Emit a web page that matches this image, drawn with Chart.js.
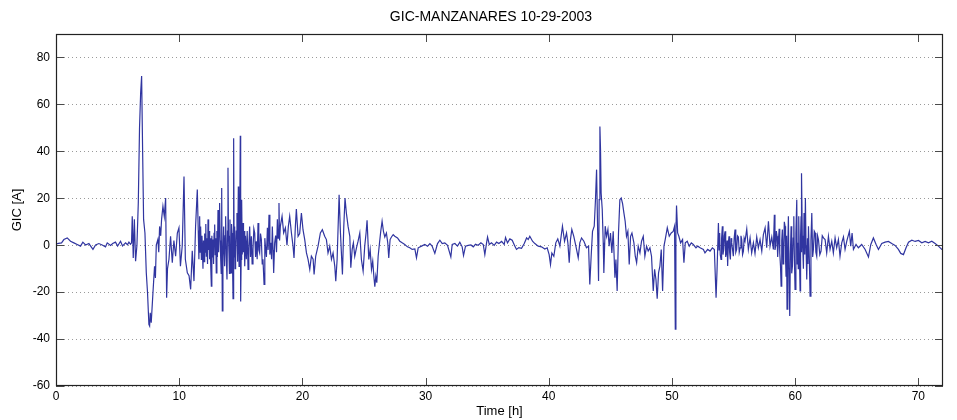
<!DOCTYPE html>
<html><head><meta charset="utf-8">
<script src="https://cdn.jsdelivr.net/npm/chart.js@4.4.1/dist/chart.umd.min.js"></script>
<style>html,body{margin:0;padding:0;background:#fff}</style>
</head><body>
<canvas id="c" width="957" height="420" style="width:957px;height:420px;display:block"></canvas>
<script>
const titleText = "GIC-MANZANARES 10-29-2003";
const xTitle = "Time [h]";
const yTitle = "GIC [A]";
const xTicks = [0,10,20,30,40,50,60,70];
const yTicks = [-60,-40,-20,0,20,40,60,80];

const timeH = [
0,0.2,0.45,0.64,0.91,1.18,1.45,1.72,1.99,2.18,2.4,2.67,3.0,3.21,3.48,3.75,4.02,4.16,4.43,4.6,4.83,5.0,5.24,5.4,5.65,5.8,5.92,6.05,6.13,
6.19,6.27,6.36,6.46,6.57,6.68,6.78,6.87,6.95,7.03,7.11,7.22,7.33,7.43,7.54,7.6,7.65,7.73,7.87,8.0,8.07,8.14,8.27,8.34,8.41,8.5,8.57,8.68,8.79,8.9,8.98,
9.05,9.17,9.3,9.44,9.57,9.71,9.85,9.98,10.1,10.25,10.39,10.5,10.66,10.8,10.93,11.06,11.2,11.33,11.47,11.6,
11.63,11.66,11.7,11.74,11.8,11.85,11.93,11.97,12.02,12.07,
12.12,12.16,12.2,12.25,12.3,12.34,12.39,12.43,12.47,12.52,
12.56,12.61,12.65,12.7,12.74,12.79,12.83,12.88,12.92,12.97,
13.01,13.06,13.1,13.15,13.2,13.24,13.28,13.33,13.37,13.41,
13.45,13.5,13.55,13.61,13.65,13.69,13.73,13.77,13.82,13.88,
13.92,13.96,14.0,14.04,14.08,14.12,14.16,14.21,14.25,14.29,
14.33,14.37,14.42,14.46,14.5,14.54,14.58,14.63,14.69,14.74,
14.8,14.83,14.86,14.91,14.96,14.99,15.03,15.07,15.12,15.18,
15.22,15.27,
15.32,15.38,15.45,15.52,15.59,15.65,15.72,15.79,15.86,15.92,
15.99,16.06,16.13,16.2,16.26,16.33,16.4,16.46,16.53,16.6,
16.67,16.74,16.8,16.89,16.95,17.0,17.08,17.16,17.22,17.29,
17.36,17.43,17.5,17.56,17.62,17.67,17.75,17.83,17.9,17.97,
18.03,18.1,18.15,
18.21,18.35,18.48,18.62,18.75,18.86,18.97,19.11,19.24,19.32,19.43,19.51,19.65,19.78,19.92,
20.05,20.19,20.33,20.46,20.6,20.73,20.87,20.95,21.08,21.27,21.46,21.62,21.81,21.95,22.08,22.22,22.36,22.49,22.63,22.71,22.82,22.98,23.09,23.25,23.36,23.46,23.57,23.71,
23.85,23.93,24.04,24.14,24.25,24.39,24.52,24.66,24.79,24.93,25.06,25.17,25.25,25.39,25.5,25.61,25.71,25.8,25.88,25.96,26.04,26.15,26.26,26.36,26.47,26.58,26.69,26.82,26.93,27.01,27.12,27.23,27.37,27.5,27.72,27.91,
28.1,28.31,28.53,28.72,28.91,29.13,29.26,29.4,29.67,29.94,30.16,30.35,30.53,30.75,30.97,31.16,31.35,31.56,31.78,32.05,32.16,32.38,32.59,32.78,32.97,33.08,33.24,33.46,33.68,33.87,
34.05,34.27,34.49,34.68,34.81,34.95,35.03,35.17,35.35,35.57,35.76,35.95,36.17,36.38,36.49,36.65,36.84,37.03,37.25,37.38,37.57,37.79,38.01,38.2,38.33,
38.46,38.68,38.87,39.14,39.41,39.68,39.87,40.03,40.14,40.25,40.41,40.57,40.73,40.9,41.11,41.28,41.44,41.55,41.66,41.76,41.87,42.03,42.2,42.39,42.52,42.66,42.85,43.06,43.23,43.33,43.44,43.55,43.69,43.79,43.88,43.96,
44.04,44.09,44.15,44.2,44.25,44.34,44.42,44.47,44.58,44.69,44.8,44.9,45.01,45.12,45.23,45.37,45.45,45.55,45.66,45.77,45.88,45.99,46.1,46.2,46.31,46.42,46.53,46.64,46.75,46.91,47.02,47.13,47.26,47.4,47.53,47.67,47.8,47.94,
48.07,48.21,48.34,48.42,48.48,48.59,48.7,48.8,48.91,49.02,49.13,49.24,49.35,49.45,49.62,49.78,49.94,50.1,50.21,50.27,50.32,50.37,50.46,50.56,50.7,50.86,50.97,51.08,51.24,51.4,51.57,51.73,51.95,
52.09,52.28,52.55,52.68,52.9,53.09,53.28,53.44,53.58,53.66,
53.77,53.82,53.87,53.92,53.98,54.03,54.09,54.14,54.2,54.25,
54.31,54.36,54.42,54.47,54.52,54.58,54.63,54.68,54.74,54.8,
54.85,54.92,54.98,55.05,55.12,55.18,55.25,55.32,55.39,55.46,
55.53,55.6,55.66,55.73,55.8,55.86,55.93,
56.07,56.2,56.34,56.47,56.61,56.74,56.88,57.01,57.15,57.29,57.42,57.56,57.69,57.83,57.96,58.1,58.23,
58.31,58.36,58.42,58.47,58.53,58.58,58.64,58.7,58.75,58.81,
58.86,58.91,58.96,59.02,59.07,59.12,59.18,59.22,59.26,59.3,
59.34,59.4,59.45,59.5,59.56,59.61,59.67,59.72,59.78,59.84,
59.89,59.94,59.99,60.06,60.13,60.17,60.21,60.25,60.29,60.35,
60.4,60.44,60.48,60.5,60.53,60.58,60.62,60.67,60.72,60.78,
60.83,60.88,60.94,61.0,61.04,61.08,61.15,61.21,61.28,61.35,
61.42,61.48,61.55,61.62,61.68,61.75,61.82,61.89,62.0,62.1,
62.2,62.3,
62.43,62.56,62.7,62.83,62.97,63.1,63.24,63.37,63.51,63.64,63.78,63.92,64.05,64.19,64.4,64.51,64.62,64.73,64.94,65.13,65.4,65.68,65.95,66.14,66.35,66.57,66.76,67.03,67.3,67.57,67.84,
68.11,68.38,68.57,68.79,69.0,69.2,69.47,69.74,70.01,70.28,70.55,70.82,71.09,71.36,71.63,71.9,72.0
];

const gicA = [
0.5,0.8,1.0,2.4,3.1,1.7,1.0,0.3,-0.4,1.3,0.1,0.7,-1.8,0.1,0.7,0.1,-0.7,1.0,-0.1,0.7,1.3,-0.4,1.7,-0.3,1.0,0.2,1.3,0.4,1.0,
12.3,-5.4,11,-6.8,0,18,50,64.7,72.1,40.6,11,5.2,-11.8,-20.3,-33.7,-34.4,-28.8,-33,-20.3,-9,-14,0,2.4,-3,8,4,11,16.6,12.3,20.1,-22.4,
-10,-6,3.8,-7.5,2,-4.7,5.2,7.4,-9,0,29.3,-6,-11.8,-13,-18.8,-2.4,-15.3,8,23.7,-6,
6,12.3,-3,8,-6,4,-10,2,-7,5,
-3,9,-4.7,3,-8,11,-2,6,-6,3,
-9,-17.4,4,-5,2.4,-8,5,8.8,-4,3,
-11.8,6,-5,15,-3,7,18,2,-6,-12,
24.4,-28,-5,8,-3,-9,4,12.3,-4,-14.6,
6,33,4,-3.3,-12,11,-2,-11.8,9,5.2,
-8,-22.8,45.6,-5,8,-10,-6,6,13.7,-7,
25,2,-9,5,46.6,-24,-6,19.4,-4,9.5,
-3,6,
-9,4,-6,6,-10.3,-1,8,-5,3.8,-8,
-1.8,7,5.2,-5,1.7,-6,9.5,-2,-3.3,5,
2.4,-8,-6,-16.7,3,-0.4,-5,7.4,-2,13,
-4,1,-6,8,-2,-11.8,1,4.1,-3,11,
3,18,2,
8,12.3,5.2,7.4,0,8,12.3,5.2,-0.4,-5.4,8,15.4,3.8,5,13.7,
6.6,2.4,-3.3,-6,-10.3,-4.7,-6,-12.5,-4.7,-0.4,5.2,6.6,3.8,2.4,-3.3,-0.4,-6,-3.3,-9,-15.3,-6,21.5,5.2,-12.5,8,20.1,13.7,8,
3.8,-9.6,-1.8,1.0,-4.7,-1.1,1.7,5.2,-6.1,-11.0,-0.4,5.2,10.6,-6.1,-1.8,-10.3,-6.8,-13.2,-17.7,-13.2,-16.0,-4.7,1.0,5.9,10.2,5.9,3.5,5.2,1.0,-5.4,2.4,3.5,4.5,3.8,3.1,1.7,
1.0,0.3,-0.7,-1.1,-1.8,-1.6,-5.4,-1.1,-0.4,0.3,-0.4,0.7,-0.4,-3.5,0.7,2.1,0.7,1.0,-0.1,-5.0,0.3,0.7,-0.4,1.3,-0.7,-4.4,-0.4,-0.1,0.1,-0.7,
0.4,0,1.0,0.3,-4.0,1.0,3.5,0.3,1.0,-0.1,1.3,0.7,1.6,0.3,3.3,1.0,2.7,2.1,-0.4,-1.8,-1.0,-1.3,0.7,3.1,2.4,
3.8,1.7,0.7,-0.4,-0.7,-1.6,-1.1,-4.0,-8.2,-3.3,-4.7,1.0,2.7,-0.4,8.1,1.7,5.2,1.0,-7.5,2.4,6.7,3.8,-0.4,-5.4,1.0,3.1,1.7,-1.1,-0.4,-16.7,-4.7,5.9,8.1,19.4,32.2,8.1,
-15.3,19.4,50.6,40.7,22.2,15.2,1.0,-11.8,8.1,3.8,6.7,-0.4,5.2,-3.3,5.9,-13.9,-6.1,-19.5,5.2,19.4,20.1,17.7,13.7,10.2,3.8,5.9,-8.2,3.8,5.2,1.0,-4.7,-7.5,-0.4,-3.3,1.7,3.8,-4.7,-0.4,
-2.5,-1.1,-4.7,-13.2,-19.5,-10.3,-14.6,-22.8,-11.8,-8.9,-1.8,-19.5,-0.4,2.4,7.4,3.8,5.2,5.9,8.1,-35.8,5.2,16.9,5.2,3.8,1.0,2.4,-7.5,1.0,1.7,-0.4,1.0,0.3,-1.1,
-0.4,-1.1,-1.8,-3.3,-1.8,-2.5,-1.1,-1.8,-22.4,-10.3,
9.5,-2,5.2,-4,-6.1,3,8.1,-4,-1.8,4,
5.9,-5,-3.3,2,-8.9,1,3.8,-3,-6.1,3,
1.0,-2,-4.7,3,6.7,-3,-1.8,4,3.5,-3,
-1.1,4,2.4,-4,-2.5,3,1.7,
6.9,-1.8,3.1,-3.3,1.0,-3.5,3.5,-1.1,2.4,-2.5,4.5,7.4,-1.1,10.2,-0.4,3.5,-1.8,
13,-2,-0.4,6,3.8,-5,1.7,7,-3.3,-9,
-17.4,2,6.7,-8,-1.8,10,8.1,-6,-13.2,4,
-27.3,-2,12.3,-10,-30.2,-4,8.1,-12,-8.9,3,
12.3,-6,-18.8,5,19.4,-8,1.0,-10,12.3,-6,
-19.5,4,12.3,-3,30.7,4,-1.8,-10,13.7,-4,
20.1,0,-14.6,3,-8,8.1,-6,-21.7,2,13.7,
-5,-1.8,6,5.2,-3,-4.7,4,2.4,-4,-2.5,
4,3.1,
2.4,-3.3,3.8,-1.8,1.7,-3.3,3.1,-1.1,2.4,-4.7,1.0,3.5,-1.8,1.7,5.9,-0.4,5.2,-1.8,0.3,-1.1,0.3,-1.8,-5.0,0.3,3.1,0.3,-1.8,0.7,1.3,1.6,0.7,
-0.1,-1.8,-3.5,-4.0,-1.1,1.3,2.1,1.6,2.0,1.0,1.6,1.0,1.7,0.7,-0.4,-1.8,-1.6
];

const FONT = "'Liberation Sans', Arial, Helvetica, sans-serif";

const framePlugin = {
  id: 'frame',
  afterDraw(chart) {
    const {ctx, chartArea: a, scales: {x, y}} = chart;
    ctx.save();
    ctx.strokeStyle = '#4a4a4a';
    ctx.lineWidth = 1;
    ctx.beginPath();
    xTicks.forEach(v => {
      const px = Math.round(x.getPixelForValue(v)) + 0.5;
      ctx.moveTo(px, a.bottom); ctx.lineTo(px, a.bottom - 8);
      ctx.moveTo(px, a.top); ctx.lineTo(px, a.top + 8);
    });
    yTicks.forEach(v => {
      const py = Math.round(y.getPixelForValue(v)) + 0.5;
      ctx.moveTo(a.left, py); ctx.lineTo(a.left + 8, py);
      ctx.moveTo(a.right, py); ctx.lineTo(a.right - 8, py);
    });
    ctx.stroke();
    ctx.strokeStyle = '#222';
    ctx.lineWidth = 1.2;
    ctx.strokeRect(Math.round(a.left) + 0.5, Math.round(a.top) + 0.5,
                   Math.round(a.right - a.left) - 1, Math.round(a.bottom - a.top) - 1);
    ctx.restore();
  }
};

const titlePlugin = {
  id: 'mtitle',
  afterDraw(chart) {
    const ctx = chart.ctx;
    ctx.save();
    ctx.font = "14px " + FONT;
    ctx.fillStyle = '#000';
    ctx.textAlign = 'center';
    ctx.textBaseline = 'middle';
    ctx.fillText(titleText, 491, 17);
    ctx.restore();
  }
};

new Chart(document.getElementById('c').getContext('2d'), {
  type: 'line',
  data: {
    datasets: [{
      data: timeH.map((t, i) => ({x: t, y: gicA[i]})),
      borderColor: '#3035a0',
      borderWidth: 1.2,
      pointRadius: 0,
      tension: 0,
      fill: false
    }]
  },
  options: {
    responsive: false,
    animation: false,
    devicePixelRatio: 1,
    layout: {padding: {top: 34, right: 14, left: 0, bottom: 0}},
    plugins: {legend: {display: false}, tooltip: {enabled: false}, title: {display: false}},
    scales: {
      x: {
        type: 'linear', min: 0, max: 72,
        afterBuildTicks: s => { s.ticks = xTicks.map(v => ({value: v})); },
        afterFit: s => { s.height = 34; },
        ticks: {font: {family: FONT, size: 12}, color: '#000', padding: 3, maxRotation: 0, autoSkip: false},
        grid: {display: false, drawTicks: false},
        border: {display: false},
        title: {display: true, text: xTitle, color: '#000', font: {family: FONT, size: 13}, padding: {top: 0, bottom: 1}}
      },
      y: {
        type: 'linear', min: -60, max: 90,
        afterBuildTicks: s => { s.ticks = yTicks.map(v => ({value: v})); },
        afterFit: s => { s.width = 56; },
        ticks: {font: {family: FONT, size: 12}, color: '#000', padding: 6},
        grid: {color: '#9a9a9a', lineWidth: 1, drawTicks: false},
        border: {display: false, dash: [1, 3]},
        title: {display: true, text: yTitle, color: '#000', font: {family: FONT, size: 13}, padding: {top: 10, bottom: 0}}
      }
    }
  },
  plugins: [framePlugin, titlePlugin]
});
</script>
</body></html>
